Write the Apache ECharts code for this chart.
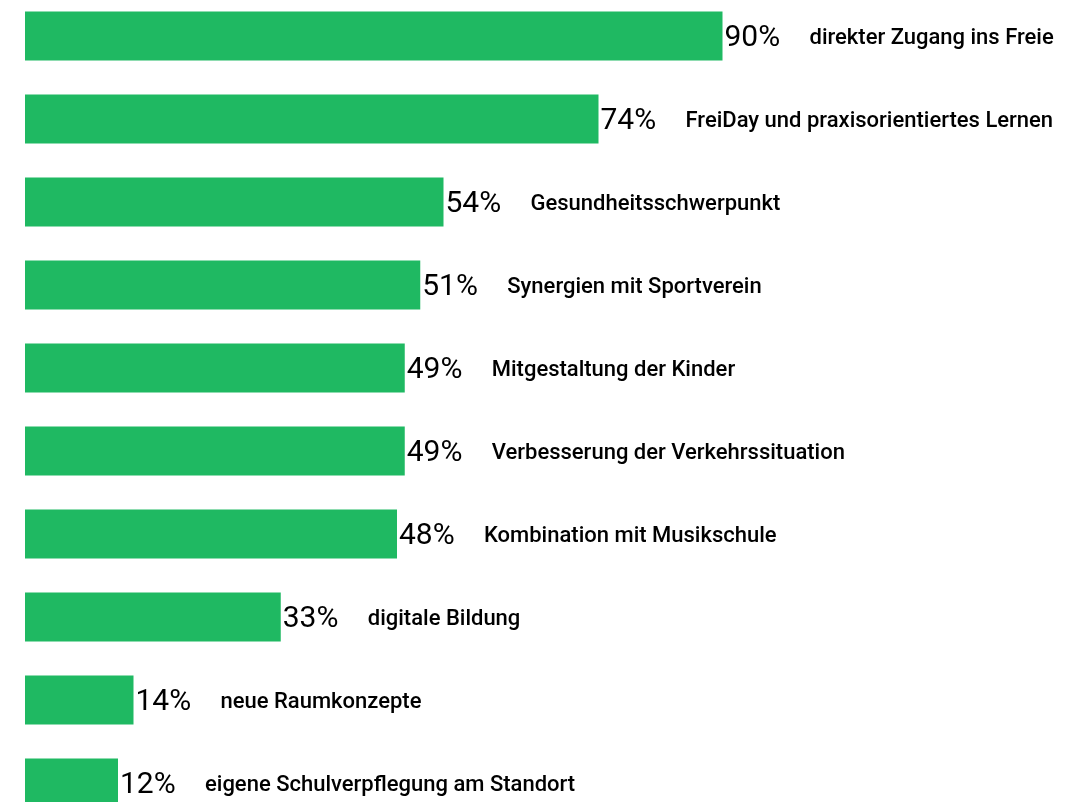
<!DOCTYPE html>
<html>
<head>
<meta charset="utf-8">
<script src="https://cdn.jsdelivr.net/npm/echarts@6/dist/echarts.min.js"></script>
<style>
  html, body { margin: 0; padding: 0; background: #fff; }
  #chart { width: 1080px; height: 802px; }
</style>
</head>
<body>
<div id="chart"></div>
<script>
// Kategorien und Werte (Prozent)
var categories = [
  'direkter Zugang ins Freie',
  'FreiDay und praxisorientiertes Lernen',
  'Gesundheitsschwerpunkt',
  'Synergien mit Sportverein',
  'Mitgestaltung der Kinder',
  'Verbesserung der Verkehrssituation',
  'Kombination mit Musikschule',
  'digitale Bildung',
  'neue Raumkonzepte',
  'eigene Schulverpflegung am Standort'
];
var values = [90, 74, 54, 51, 49, 49, 48, 33, 14, 12];

var myChart = echarts.init(document.getElementById('chart'));

var option = {
  animation: false,
  grid: {
    left: 25, top: -5.5, width: 1054, height: 830,
    containLabel: false,
    outerBoundsMode: 'none'
  },
  xAxis: {
    type: 'value',
    min: 0,
    max: 136,
    show: false
  },
  yAxis: {
    type: 'category',
    data: categories,
    inverse: true,
    show: false
  },
  series: [{
    type: 'bar',
    data: values,
    barWidth: 49,
    itemStyle: { color: '#1fb962' },
    label: {
      show: true,
      position: 'right',
      distance: 2,
      offset: [0, 2],
      formatter: function (p) {
        return '{p|' + p.value + '%}{c|' + categories[p.dataIndex] + '}';
      },
      rich: {
        p: { fontFamily: 'Roboto', fontSize: 30, color: '#000', width: 85, align: 'left' },
        c: { fontFamily: 'Roboto', fontSize: 22, fontWeight: 500, color: '#000' }
      }
    }
  }]
};

myChart.setOption(option);
</script>
</body>
</html>
